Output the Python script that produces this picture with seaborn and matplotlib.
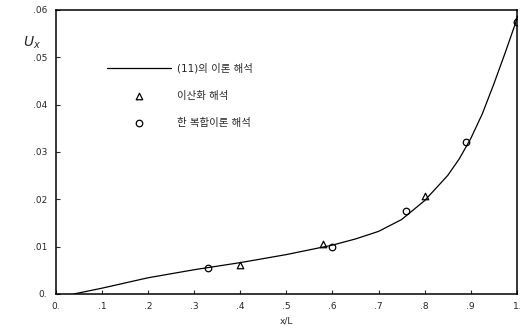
import numpy as np
import pandas as pd
import seaborn as sns
import matplotlib.pyplot as plt

sns.set_style('ticks')
plt.rcParams['font.family'] = ['DejaVu Sans', 'Noto Sans CJK KR']

# theory curve
curve_x = [0.04, 0.1, 0.2, 0.3, 0.4, 0.5, 0.6, 0.65, 0.7, 0.75, 0.8, 0.85, 0.875, 0.9, 0.925, 0.95, 0.975, 1.0]
curve_y = [0.0, 0.0012, 0.0034, 0.0051, 0.0066, 0.0083, 0.0103, 0.0116, 0.0132, 0.0157, 0.0197, 0.0250, 0.0285, 0.0328, 0.0380, 0.0443, 0.0510, 0.0580]

# discrete analysis (triangles)
tri_x = [0.40, 0.58, 0.80, 1.0]
tri_y = [0.0062, 0.0106, 0.0206, 0.0580]

# other analysis (circles)
circ_x = [0.33, 0.60, 0.76, 0.89, 1.0]
circ_y = [0.0054, 0.0100, 0.0176, 0.0320, 0.0575]

xticks = [0, 0.1, 0.2, 0.3, 0.4, 0.5, 0.6, 0.7, 0.8, 0.9, 1.0]
xtick_labels = ['0.', '.1', '.2', '.3', '.4', '.5', '.6', '.7', '.8', '.9', '1.']
yticks = [0, 0.01, 0.02, 0.03, 0.04, 0.05, 0.06]
ytick_labels = ['0.', '.01', '.02', '.03', '.04', '.05', '.06']

labels = ['(11)의 이론 해석', '이산화 해석', '한 복합이론 해석']

fig = plt.figure(figsize=(5.21, 3.28), dpi=100)
ax = fig.add_axes([0.107, 0.104, 0.885, 0.866])

sns.lineplot(x=curve_x, y=curve_y, ax=ax, color='black', linewidth=0.9, label=labels[0])
sns.scatterplot(x=tri_x, y=tri_y, ax=ax, marker='^', s=22, facecolor='white',
                edgecolor='black', linewidth=0.9, label=labels[1])
sns.scatterplot(x=circ_x, y=circ_y, ax=ax, marker='o', s=22, facecolor='white',
                edgecolor='black', linewidth=0.9, label=labels[2])

ax.set_xlim(0, 1.0)
ax.set_ylim(0, 0.06)
ax.set_xticks(xticks)
ax.set_xticklabels(xtick_labels, fontsize=6.5)
ax.set_yticks(yticks)
ax.set_yticklabels(ytick_labels, fontsize=6.5)
ax.tick_params(direction='in', length=3, width=0.8, pad=6)
for s in ax.spines.values():
    s.set_linewidth(1.1)
    s.set_color('black')

ax.set_xlabel('x/L', fontsize=6.5, labelpad=4)
fig.text(0.045, 0.87, r'$U_x$', fontsize=10, ha='left', va='center')

leg = ax.legend(loc='upper left', bbox_to_anchor=(0.09, 0.845), frameon=False,
                handlelength=6.2, fontsize=7.5, labelspacing=1.63, handletextpad=0.6)

fig.savefig('out.png', dpi=100)
